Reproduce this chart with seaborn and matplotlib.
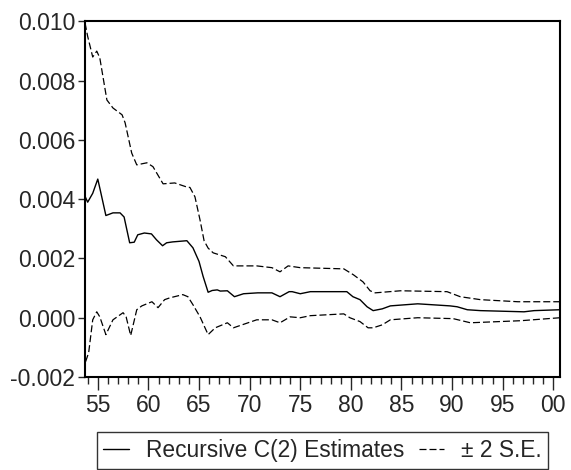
import numpy as np
import pandas as pd
import matplotlib
matplotlib.use("Agg")
import matplotlib.pyplot as plt
from matplotlib.ticker import FixedLocator, MultipleLocator, FuncFormatter
import seaborn as sns

# recursive coefficient estimate
est_year = [1953.74, 1954.0, 1954.5, 1955.0, 1955.25, 1955.8, 1956.5, 1957.2, 1957.6,
            1958.15, 1958.6, 1958.95, 1959.6, 1960.3, 1960.8, 1961.4, 1961.8, 1962.4,
            1963.8, 1964.4, 1965.0, 1965.4, 1965.9, 1966.3, 1966.8, 1967.1, 1967.8,
            1968.5, 1969.4, 1970.8, 1972.2, 1973.0, 1973.9, 1974.2, 1975.0, 1976.0,
            1979.6, 1980.2, 1980.9, 1981.6, 1982.2, 1983.1, 1983.9, 1986.6, 1989.8,
            1990.5, 1991.5, 1992.8, 1997.1, 1998.1, 2000.66]
est_val = [0.0041, 0.0039, 0.0042, 0.00468, 0.0043, 0.00345, 0.00354, 0.00354, 0.0034,
           0.00253, 0.00255, 0.0028, 0.00286, 0.00283, 0.00263, 0.00243, 0.00253, 0.00256,
           0.0026, 0.00236, 0.0019, 0.0014, 0.00086, 0.00092, 0.00094, 0.0009, 0.00091,
           0.00071, 0.00081, 0.00084, 0.00084, 0.00071, 0.00088, 0.00088, 0.00081, 0.00088,
           0.00088, 0.00071, 0.00061, 0.00037, 0.00024, 0.0003, 0.0004, 0.00047, 0.0004,
           0.00037, 0.00027, 0.00024, 0.0002, 0.00024, 0.00027]

# upper band (+2 S.E.)
up_year = [1953.74, 1954.0, 1954.5, 1954.9, 1955.2, 1955.9, 1956.5, 1957.4, 1957.7,
           1958.35, 1958.85, 1959.85, 1960.45, 1961.45, 1962.6, 1963.9, 1964.1, 1964.6,
           1965.1, 1965.5, 1965.9, 1966.4, 1967.6, 1968.4, 1970.7, 1972.2, 1973.0,
           1973.8, 1975.0, 1979.3, 1980.25, 1981.2, 1981.9, 1982.4, 1984.9, 1989.5,
           1990.8, 1992.8, 1996.5, 2000.66]
up_val = [0.00995, 0.0095, 0.0088, 0.009, 0.00877, 0.00735, 0.00708, 0.00685, 0.00658,
          0.00556, 0.00516, 0.00523, 0.0051, 0.00452, 0.00455, 0.0044, 0.0044, 0.00408,
          0.0033, 0.0026, 0.00235, 0.00219, 0.00206, 0.00175, 0.00175, 0.00169, 0.00155,
          0.00175, 0.00169, 0.00165, 0.00145, 0.00121, 0.00091, 0.00084, 0.00091, 0.00088,
          0.00071, 0.00061, 0.00054, 0.00054]

# lower band (-2 S.E.)
lo_year = [1953.8, 1954.1, 1954.5, 1954.9, 1955.2, 1955.8, 1956.5, 1957.5, 1957.8,
           1958.25, 1958.85, 1959.35, 1960.35, 1960.95, 1961.6, 1962.1, 1963.4, 1963.9,
           1964.4, 1965.1, 1965.9, 1966.6, 1967.8, 1968.4, 1970.7, 1972.2, 1973.0,
           1974.0, 1975.0, 1976.0, 1979.3, 1979.9, 1980.9, 1981.7, 1982.2, 1983.1,
           1983.9, 1986.6, 1990.1, 1991.8, 1996.8, 2000.66]
lo_val = [-0.00148, -0.00118, -0.00007, 0.0002, 0.00003, -0.00057, -0.00007, 0.00017, 0.00003,
          -0.0006, 0.00027, 0.0004, 0.00054, 0.00034, 0.00061, 0.00067, 0.00078, 0.00071,
          0.00044, 0.00003, -0.00057, -0.00034, -0.00017, -0.00034, -0.00007, -0.00007, -0.00017,
          0.00003, 0.0, 0.00007, 0.00013, 0.0, -0.00013, -0.00034, -0.00034, -0.00024,
          -0.00007, 0.0, -0.00003, -0.00017, -0.0001, 0.0]

y_ticks = [-0.002, 0.000, 0.002, 0.004, 0.006, 0.008, 0.010]
x_ticks = [1955, 1960, 1965, 1970, 1975, 1980, 1985, 1990, 1995, 2000]

sns.set_style("white")
plt.rcParams['font.family'] = ['Liberation Sans', 'DejaVu Sans']

fig = plt.figure(figsize=(5.71, 4.70), dpi=100)
ax = fig.add_axes([0.1489, 0.1979, 0.8319, 0.7564])

dash = (5.6, 2.4)
sns.lineplot(x=est_year, y=est_val, color='black', linewidth=1.0, ax=ax,
             estimator=None, sort=False, label='Recursive C(2) Estimates', legend=False)
sns.lineplot(x=up_year, y=up_val, color='black', linewidth=0.9, ax=ax,
             estimator=None, sort=False, label='± 2 S.E.', legend=False)
sns.lineplot(x=lo_year, y=lo_val, color='black', linewidth=0.9, ax=ax,
             estimator=None, sort=False, label='_nolegend_', legend=False)
ax.lines[1].set_dashes(dash)
ax.lines[2].set_dashes(dash)

ax.set_xlim(1953.74, 2000.66)
ax.set_ylim(-0.002, 0.010)
ax.set_xlabel('')
ax.set_ylabel('')

ax.yaxis.set_major_locator(FixedLocator(y_ticks))
ax.yaxis.set_major_formatter(FuncFormatter(lambda v, p: f"{v:.3f}"))
ax.xaxis.set_major_locator(FixedLocator(x_ticks))
ax.xaxis.set_minor_locator(MultipleLocator(1))
ax.xaxis.set_major_formatter(FuncFormatter(lambda v, p: f"{int(round(v)) % 100:02d}"))

ax.tick_params(axis='y', which='major', direction='out', length=5, width=1,
               labelsize=16.5, pad=2, left=True)
ax.tick_params(axis='x', which='major', direction='out', length=9, width=1,
               labelsize=16.5, pad=3, bottom=True)
ax.tick_params(axis='x', which='minor', direction='out', length=5, width=1, bottom=True)

for s in ax.spines.values():
    s.set_visible(True)
    s.set_color('black')
    s.set_linewidth(1.5)

h, l = ax.get_legend_handles_labels()
leg = fig.legend(h, l, loc='center', bbox_to_anchor=(0.5648, 0.0415), ncol=2,
                 frameon=True, fancybox=False, fontsize=16.4, handlelength=1.1,
                 handletextpad=0.75, columnspacing=0.65, borderpad=0.3,
                 borderaxespad=0)
leg.get_frame().set_edgecolor('black')
leg.get_frame().set_linewidth(1.0)

fig.savefig('out.png', dpi=100)
